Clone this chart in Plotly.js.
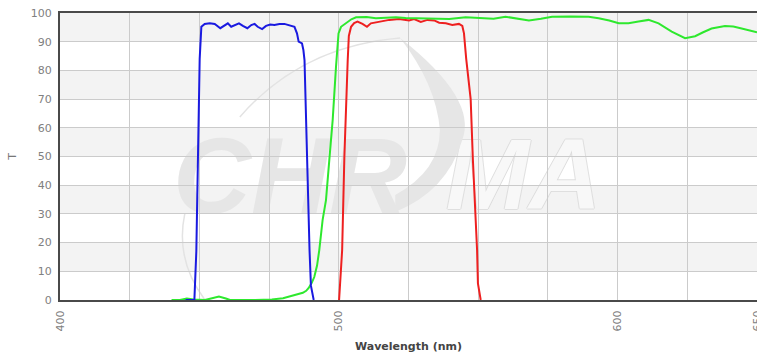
<!DOCTYPE html>
<html>
<head>
<meta charset="utf-8">
<script src="https://cdn.plot.ly/plotly-3.0.1.min.js"></script>
<style>
  html, body { margin: 0; padding: 0; background: #fff; }
  #chart { width: 757px; height: 356px; }
</style>
</head>
<body>
<div id="chart"></div>
<script>
// Filter transmission spectra (T, %) versus wavelength (nm)

// Excitation filter (blue)
const blueNm = [445, 448.2, 448.9, 449.5, 450.1, 450.7, 451.9, 453.7, 455.5, 457.5, 459.0, 460.2,
  461.4, 462.6, 464.2, 465.6, 467.2, 468.6, 469.8, 470.9, 472.5, 473.9, 475.4, 476.9, 478.7,
  480.5, 482.3, 484.1, 485.0, 485.6, 486.8, 487.3, 487.7, 488.3, 488.9, 489.5, 490.0, 491.0];
const blueT = [0, 0, 17, 50, 84, 95.2, 96.2, 96.4, 96.2, 94.7, 95.8, 96.4,
  95.2, 95.8, 96.4, 95.5, 94.7, 95.8, 96.2, 95.2, 94.4, 95.5, 96.0, 95.8, 96.2,
  96.2, 95.6, 95.2, 92.9, 90.0, 89.4, 87.1, 83.6, 60.4, 37.2, 17.4, 5, 0];

// Dichroic mirror (green)
const greenNm = [440, 443, 445.5, 448, 452, 455, 457, 459.5, 461, 470, 476, 480, 482.3, 485,
  487.1, 488.3, 489.2, 490.3, 491.2, 492.2, 493.0, 494.2, 495.4, 496.6, 497.8, 499.0, 499.9,
  500.8, 502.6, 504.5, 506.2, 510, 513.3, 517, 520.5, 524, 527.6, 533.6, 539.6, 545.5, 551.5,
  555.5, 559.8, 564, 568.2, 572.5, 576.5, 583, 589.6, 593.2, 597, 600.4, 603.9, 607.5, 611.1,
  614.7, 619.4, 624.2, 627.8, 630.5, 633.7, 638.5, 641.5, 644.5, 647, 650];
const greenT = [0, 0, 0.5, 0.2, 0, 0.6, 1.2, 0.5, 0, 0, 0.2, 0.6, 1.2, 1.7,
  2.5, 3.2, 4.2, 6, 8, 12, 17.4, 27.9, 34.8, 48.8, 62.7, 81.3, 92.9,
  95.2, 96.5, 97.8, 98.5, 98.6, 98.2, 98.4, 98.5, 98.3, 98.2, 98.2, 97.9, 98.5, 98.2,
  98.0, 98.7, 98.1, 97.4, 98.0, 98.7, 98.8, 98.7, 98.2, 97.4, 96.4, 96.4, 97.0, 97.6,
  96.4, 93.5, 91.2, 91.9, 93.2, 94.6, 95.5, 95.3, 94.6, 94.0, 93.3];

// Emission filter (red)
const redNm = [500.1, 500.7, 501.2, 502.0, 502.7, 503.2, 503.6, 504.4, 505.5, 506.7, 508.5,
  510.1, 511.5, 514.5, 518.1, 521.6, 525.2, 527.0, 529.4, 531.8, 534.2, 536.0, 538.4, 540.7,
  543.1, 544.3, 544.9, 545.7, 546.5, 547.3, 548.1, 549.0, 549.6, 549.9, 550.9];
const redT = [0, 8, 17.4, 50, 75, 83.6, 92, 95.2, 96.5, 97.0, 96.2,
  95.2, 96.4, 96.9, 97.6, 97.9, 97.4, 97.9, 96.9, 97.6, 97.4, 96.6, 96.4, 95.8,
  96.2, 95.5, 92.9, 84, 77, 70, 48.8, 31.4, 17.4, 5.8, 0];

const xTickVals = [400, 500, 600, 650];
const xTickText = ['400', '500', '600', '650'];
const shadedBands = [[10, 20], [30, 40], [50, 60], [70, 80], [90, 100]];

const lineW = 2;
const traces = [
  { x: redNm, y: redT, mode: 'lines', line: { color: '#ee2020', width: lineW }, hoverinfo: 'skip' },
  { x: greenNm, y: greenT, mode: 'lines', line: { color: '#2ee82e', width: lineW }, hoverinfo: 'skip' },
  { x: blueNm, y: blueT, mode: 'lines', line: { color: '#1a1ae0', width: lineW }, hoverinfo: 'skip' }
];

const gridColor = '#cbcbcb';
const tickFont = { family: 'DejaVu Sans, Verdana, sans-serif', size: 11, color: '#808080' };

// alternating light bands behind the plot
const shapes = shadedBands.map(b => ({
  type: 'rect', xref: 'paper', yref: 'y', x0: 0, x1: 1, y0: b[0], y1: b[1],
  fillcolor: '#f3f3f3', line: { width: 0 }, layer: 'below'
}));

// faint brand mark in the background
const markFill = '#e6e6e6';
const outline = '#d9d9d9';
shapes.push(
  { type: 'rect', xref: 'paper', yref: 'paper', x0: 0.14, x1: 0.52, y0: 0.30, y1: 0.64,
    fillcolor: 'rgba(0,0,0,0)', line: { width: 0 }, layer: 'below',
    label: { text: 'CHR', textposition: 'middle center',
      font: { family: 'Liberation Sans, Arial, sans-serif', size: 108, color: markFill, weight: 'bold', style: 'italic' } } },
  { type: 'rect', xref: 'paper', yref: 'paper', x0: 0.55, x1: 0.78, y0: 0.30, y1: 0.64,
    fillcolor: 'rgba(0,0,0,0)', line: { width: 0 }, layer: 'below',
    label: { text: 'MA', textposition: 'middle center',
      font: { family: 'Liberation Sans, Arial, sans-serif', size: 100, color: 'rgba(255,255,255,0.8)', weight: 'bold', style: 'italic',
        shadow: `1px 0 0 ${outline}, -1px 0 0 ${outline}, 0 1px 0 ${outline}, 0 -1px 0 ${outline}` } } },
  { type: 'path', xref: 'paper', yref: 'paper', layer: 'below',
    path: 'M 0.488,0.913 Q 0.60,0.70 0.577,0.557 Q 0.555,0.38 0.481,0.307 L 0.481,0.366 Q 0.545,0.45 0.545,0.592 Q 0.54,0.75 0.488,0.913 Z',
    fillcolor: markFill, line: { width: 0 } },
  { type: 'path', xref: 'paper', yref: 'paper', layer: 'below',
    path: 'M 0.258,0.638 Q 0.347,0.885 0.488,0.913',
    line: { color: '#e3e3e3', width: 1.5 } },
  { type: 'path', xref: 'paper', yref: 'paper', layer: 'below',
    path: 'M 0.208,0.0 Q 0.165,0.14 0.179,0.30',
    line: { color: '#e3e3e3', width: 1.5 } }
);

const layout = {
  width: 757, height: 356,
  margin: { l: 60, r: 0, t: 13, b: 56 },
  paper_bgcolor: '#ffffff', plot_bgcolor: '#ffffff',
  showlegend: false,
  xaxis: {
    range: [400, 650], autorange: false,
    tickmode: 'array', tickvals: xTickVals, ticktext: xTickText,
    tickangle: -90, tickfont: tickFont, ticks: '', ticklabelstandoff: 4,
    ticklabeloverflow: 'allow',
    showgrid: true, gridcolor: gridColor, gridwidth: 1,
    minor: { tickmode: 'linear', tick0: 400, dtick: 25, showgrid: true, gridcolor: gridColor, gridwidth: 1 },
    showline: true, linecolor: '#4a4a4a', linewidth: 2, mirror: true, zeroline: false,
    title: { text: 'Wavelength (nm)', standoff: 12,
      font: { family: 'DejaVu Sans, Verdana, sans-serif', size: 11, color: '#444', weight: 'bold' } }
  },
  yaxis: {
    range: [0, 100], autorange: false, dtick: 10, tick0: 0,
    tickfont: tickFont, ticks: '', ticklabelstandoff: 4,
    showgrid: true, gridcolor: gridColor, gridwidth: 1,
    showline: true, linecolor: '#4a4a4a', linewidth: 2, mirror: true, zeroline: false,
    title: { text: 'T', standoff: 12,
      font: { family: 'DejaVu Sans, Verdana, sans-serif', size: 11, color: '#777' } }
  },
  shapes: shapes
};

Plotly.newPlot('chart', traces, layout, { staticPlot: true, displayModeBar: false });
</script>
</body>
</html>
